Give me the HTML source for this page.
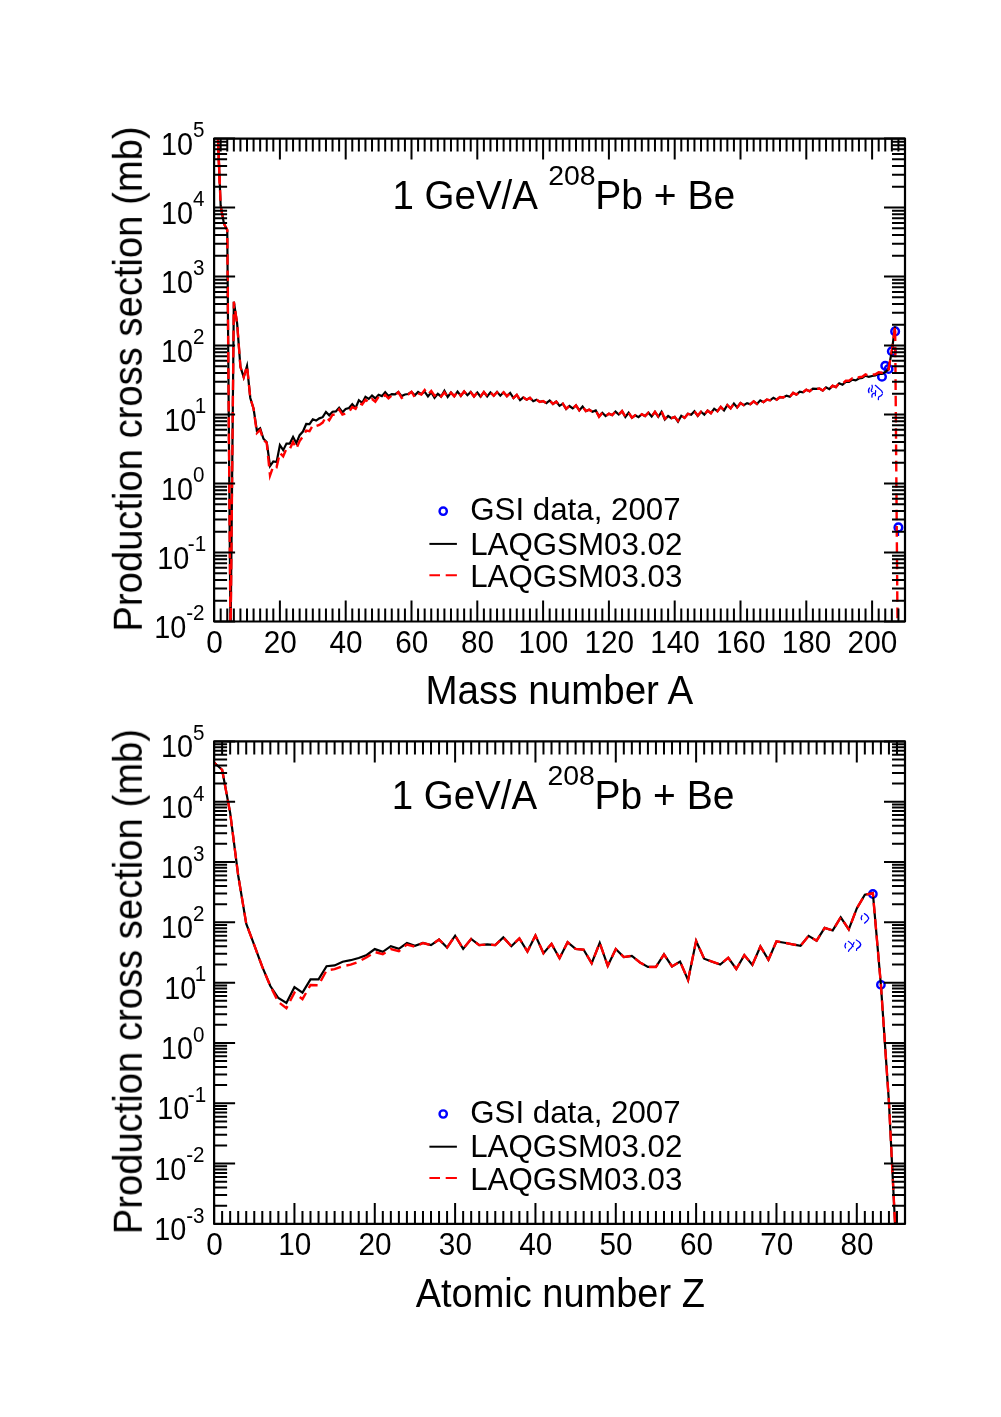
<!DOCTYPE html><html><head><meta charset="utf-8"><style>html,body{margin:0;padding:0;background:#fff}svg{display:block}text{will-change:transform}</style></head><body><svg width="1001" height="1417" viewBox="0 0 1001 1417">
<rect width="1001" height="1417" fill="#fff"/>
<clipPath id="cp1"><rect x="214.10" y="138.60" width="690.90" height="482.90"/></clipPath>
<path d="M869.6 387.9Q867.6 390.3 869 392.7M872 385.2Q873 387.4 871.8 389.2T872 391.6M872 397.2Q871.4 394.5 873.5 393.3L875.3 393Q875.8 392 875.6 390.6M875.3 393L875.4 395.7M875.3 385.3L878.6 388.2L881.6 390.9L882.5 392.7M882.3 394.2Q881.6 396 878.7 396.9Q878.2 398 878.4 399.6" stroke="#0000ff" stroke-width="1.25" fill="none" stroke-linecap="round" stroke-linejoin="round"/>
<circle cx="881.97" cy="376.7" r="3.8" fill="none" stroke="#0000ff" stroke-width="2.5"/>
<circle cx="885.26" cy="365.7" r="3.8" fill="none" stroke="#0000ff" stroke-width="2.5"/>
<circle cx="888.55" cy="369.0" r="3.8" fill="none" stroke="#0000ff" stroke-width="2.5"/>
<circle cx="891.84" cy="351.3" r="3.8" fill="none" stroke="#0000ff" stroke-width="2.5"/>
<circle cx="895.13" cy="331.4" r="3.8" fill="none" stroke="#0000ff" stroke-width="2.5"/>
<circle cx="898.42" cy="527.4" r="3.8" fill="none" stroke="#0000ff" stroke-width="2.5"/>
<path d="M898.42 530V536" stroke="#0000ff" stroke-width="1.5"/>
<g clip-path="url(#cp1)" fill="none" stroke-linejoin="miter" stroke-miterlimit="6">
<path d="M217.39 125.00 L220.68 206.00 L223.97 223.70 L227.26 230.00 L230.55 640.00 L233.84 301.70 L237.13 323.40 L240.42 366.80 L243.71 377.19 L247.00 365.91 L250.29 397.98 L253.58 408.77 L256.87 430.70 L260.16 428.31 L263.45 438.74 L266.74 442.34 L270.03 466.03 L273.32 461.38 L276.61 462.03 L279.90 445.14 L283.19 450.15 L286.48 443.53 L289.77 443.53 L293.06 436.99 L296.35 443.22 L299.64 435.14 L302.93 431.55 L306.22 423.99 L309.51 424.15 L312.80 419.32 L316.09 420.59 L319.38 418.36 L322.67 417.16 L325.96 412.02 L329.25 415.32 L332.54 411.77 L335.83 411.41 L339.12 407.77 L342.41 412.23 L345.70 408.97 L348.99 407.97 L352.28 404.28 L355.57 408.02 L358.86 400.22 L362.15 402.91 L365.44 396.77 L368.73 398.95 L372.02 395.57 L375.31 398.39 L378.60 394.81 L381.89 396.11 L385.18 392.25 L388.47 396.04 L391.76 394.06 L395.05 394.38 L398.34 391.99 L401.63 396.11 L404.92 394.48 L408.21 393.98 L411.50 391.88 L414.79 395.33 L418.08 391.95 L421.37 394.10 L424.66 391.68 L427.95 396.34 L431.24 392.29 L434.53 397.74 L437.82 393.79 L441.11 396.46 L444.40 390.77 L447.69 396.93 L450.98 392.61 L454.27 396.35 L457.56 391.68 L460.85 395.84 L464.14 391.48 L467.43 395.16 L470.72 391.91 L474.01 396.41 L477.30 392.55 L480.59 396.78 L483.88 392.18 L487.17 396.41 L490.46 392.36 L493.75 395.66 L497.04 391.87 L500.33 395.66 L503.62 392.31 L506.91 396.16 L510.20 392.96 L513.49 398.00 L516.78 394.96 L520.07 400.16 L523.36 397.40 L526.65 399.69 L529.94 397.84 L533.23 401.17 L536.52 399.67 L539.81 401.86 L543.10 401.09 L546.39 403.15 L549.68 400.50 L552.97 403.94 L556.26 401.59 L559.55 405.85 L562.84 403.70 L566.13 409.07 L569.42 406.00 L572.71 408.44 L576.00 405.37 L579.29 410.34 L582.58 406.48 L585.87 411.05 L589.16 409.66 L592.45 411.77 L595.74 410.45 L599.03 416.35 L602.32 412.72 L605.61 415.99 L608.90 413.69 L612.19 415.13 L615.48 411.59 L618.77 414.55 L622.06 411.12 L625.35 417.02 L628.64 412.72 L631.93 417.73 L635.22 415.28 L638.51 417.13 L641.80 414.28 L645.09 416.06 L648.38 412.72 L651.67 416.40 L654.96 411.85 L658.25 416.87 L661.54 411.91 L664.83 419.57 L668.12 416.00 L671.41 418.22 L674.70 416.90 L677.99 421.64 L681.28 415.75 L684.57 417.88 L687.86 413.76 L691.15 414.69 L694.44 411.32 L697.73 415.89 L701.02 411.77 L704.31 414.69 L707.60 410.64 L710.89 413.22 L714.18 408.69 L717.47 411.22 L720.76 406.90 L724.05 410.35 L727.34 405.06 L730.63 408.40 L733.92 403.59 L737.21 407.45 L740.50 403.04 L743.79 405.18 L747.08 403.12 L750.37 404.25 L753.66 401.39 L756.95 403.93 L760.24 400.36 L763.53 402.18 L766.82 399.61 L770.11 400.32 L773.40 397.75 L776.69 399.68 L779.98 397.07 L783.27 397.41 L786.56 395.59 L789.85 396.70 L793.14 392.86 L796.43 394.63 L799.72 391.62 L803.01 392.32 L806.30 389.69 L809.59 391.23 L812.88 388.56 L816.17 388.95 L819.46 388.54 L822.75 390.60 L826.04 387.32 L829.33 389.10 L832.62 385.77 L835.91 387.13 L839.20 383.30 L842.49 384.73 L845.78 381.97 L849.07 381.97 L852.36 379.59 L855.65 380.38 L858.94 378.47 L862.23 377.97 L865.52 375.63 L868.81 376.91 L872.10 375.97 L875.39 375.47 L878.68 373.54 L881.97 373.92 L885.26 372.00 L888.55 369.50 L891.84 350.80 L895.13 326.30" stroke="#000" stroke-width="2.2"/>
<path d="M217.4 125L219.76 183" stroke="#ff0000" stroke-width="2.4"/>
<path d="M217.39 125.00 L220.68 206.00 L223.97 223.70 L227.26 230.00 L230.55 640.00 L233.84 301.70 L237.13 323.40 L240.42 366.80 L243.71 377.19 L247.00 365.91 L250.29 397.98 L253.58 408.77 L256.87 433.05 L260.16 429.87 L263.45 439.94 L266.74 442.93 L270.03 475.49 L273.32 466.00 L276.61 467.13 L279.90 452.88 L283.19 456.33 L286.48 448.73 L289.77 449.13 L293.06 442.04 L296.35 448.63 L299.64 441.14 L302.93 436.34 L306.22 430.64 L309.51 431.23 L312.80 425.27 L316.09 426.09 L319.38 424.95 L322.67 422.56 L325.96 416.96 L329.25 420.36 L332.54 414.76 L335.83 414.76 L339.12 409.58 L342.41 414.60 L345.70 413.46 L348.99 411.96 L352.28 407.01 L355.57 408.83 L358.86 403.02 L362.15 404.47 L365.44 399.71 L368.73 402.38 L372.02 399.07 L375.31 401.74 L378.60 396.82 L381.89 397.76 L385.18 395.01 L388.47 398.45 L391.76 395.48 L395.05 394.98 L398.34 392.21 L401.63 397.93 L404.92 395.98 L408.21 394.48 L411.50 391.74 L414.79 397.37 L418.08 393.37 L421.37 394.56 L424.66 390.05 L427.95 394.48 L431.24 390.99 L434.53 395.70 L437.82 393.12 L441.11 396.55 L444.40 392.24 L447.69 397.15 L450.98 392.61 L454.27 396.30 L457.56 391.31 L460.85 395.78 L464.14 391.48 L467.43 395.22 L470.72 392.29 L474.01 396.47 L477.30 392.49 L480.59 396.41 L483.88 392.05 L487.17 396.03 L490.46 392.31 L493.75 395.71 L497.04 392.25 L500.33 395.71 L503.62 392.31 L506.91 396.16 L510.20 392.96 L513.49 398.00 L516.78 394.96 L520.07 400.16 L523.36 397.40 L526.65 399.69 L529.94 397.84 L533.23 401.17 L536.52 399.67 L539.81 401.86 L543.10 401.09 L546.39 403.15 L549.68 400.50 L552.97 403.94 L556.26 401.59 L559.55 405.85 L562.84 403.66 L566.13 408.69 L569.42 405.95 L572.71 408.44 L576.00 405.37 L579.29 410.34 L582.58 406.48 L585.87 411.05 L589.16 409.66 L592.45 411.77 L595.74 410.47 L599.03 416.73 L602.32 412.77 L605.61 415.99 L608.90 413.69 L612.19 415.13 L615.48 411.59 L618.77 414.55 L622.06 411.08 L625.35 416.65 L628.64 412.66 L631.93 417.73 L635.22 415.28 L638.51 417.13 L641.80 414.28 L645.09 416.06 L648.38 412.72 L651.67 416.40 L654.96 411.79 L658.25 416.44 L661.54 411.36 L664.83 418.82 L668.12 415.92 L671.41 418.22 L674.70 416.85 L677.99 420.90 L681.28 415.69 L684.57 417.88 L687.86 413.76 L691.15 414.69 L694.44 411.27 L697.73 415.51 L701.02 411.72 L704.31 414.69 L707.60 410.64 L710.89 413.22 L714.18 408.69 L717.47 411.22 L720.76 406.90 L724.05 410.35 L727.34 405.06 L730.63 408.40 L733.92 403.59 L737.21 407.45 L740.50 403.04 L743.79 405.18 L747.08 403.12 L750.37 404.25 L753.66 401.39 L756.95 403.93 L760.24 400.36 L763.53 402.18 L766.82 399.61 L770.11 400.32 L773.40 397.75 L776.69 399.68 L779.98 397.07 L783.27 397.41 L786.56 395.59 L789.85 396.70 L793.14 392.86 L796.43 394.63 L799.72 391.62 L803.01 392.32 L806.30 389.69 L809.59 391.23 L812.88 388.56 L816.17 388.95 L819.46 388.54 L822.75 390.60 L826.04 387.32 L829.33 389.10 L832.62 385.77 L835.91 387.13 L839.20 383.16 L842.49 383.64 L845.78 380.77 L849.07 380.77 L852.36 378.39 L855.65 379.18 L858.94 377.27 L862.23 376.77 L865.52 374.43 L868.81 375.71 L872.10 374.77 L875.39 374.27 L878.68 372.34 L881.97 372.76 L885.26 372.00 L888.55 369.50 L891.84 350.80 L895.13 326.30 L898.42 737.00" stroke="#ff0000" stroke-width="2.4" stroke-dasharray="10.6 5.7" stroke-dashoffset="0"/>
</g>
<path d="M214.10 138.60v21M214.10 621.50v-21M220.68 138.60v13M220.68 621.50v-13M227.26 138.60v13M227.26 621.50v-13M233.84 138.60v13M233.84 621.50v-13M240.42 138.60v13M240.42 621.50v-13M247.00 138.60v13M247.00 621.50v-13M253.58 138.60v13M253.58 621.50v-13M260.16 138.60v13M260.16 621.50v-13M266.74 138.60v13M266.74 621.50v-13M273.32 138.60v13M273.32 621.50v-13M279.90 138.60v21M279.90 621.50v-21M286.48 138.60v13M286.48 621.50v-13M293.06 138.60v13M293.06 621.50v-13M299.64 138.60v13M299.64 621.50v-13M306.22 138.60v13M306.22 621.50v-13M312.80 138.60v13M312.80 621.50v-13M319.38 138.60v13M319.38 621.50v-13M325.96 138.60v13M325.96 621.50v-13M332.54 138.60v13M332.54 621.50v-13M339.12 138.60v13M339.12 621.50v-13M345.70 138.60v21M345.70 621.50v-21M352.28 138.60v13M352.28 621.50v-13M358.86 138.60v13M358.86 621.50v-13M365.44 138.60v13M365.44 621.50v-13M372.02 138.60v13M372.02 621.50v-13M378.60 138.60v13M378.60 621.50v-13M385.18 138.60v13M385.18 621.50v-13M391.76 138.60v13M391.76 621.50v-13M398.34 138.60v13M398.34 621.50v-13M404.92 138.60v13M404.92 621.50v-13M411.50 138.60v21M411.50 621.50v-21M418.08 138.60v13M418.08 621.50v-13M424.66 138.60v13M424.66 621.50v-13M431.24 138.60v13M431.24 621.50v-13M437.82 138.60v13M437.82 621.50v-13M444.40 138.60v13M444.40 621.50v-13M450.98 138.60v13M450.98 621.50v-13M457.56 138.60v13M457.56 621.50v-13M464.14 138.60v13M464.14 621.50v-13M470.72 138.60v13M470.72 621.50v-13M477.30 138.60v21M477.30 621.50v-21M483.88 138.60v13M483.88 621.50v-13M490.46 138.60v13M490.46 621.50v-13M497.04 138.60v13M497.04 621.50v-13M503.62 138.60v13M503.62 621.50v-13M510.20 138.60v13M510.20 621.50v-13M516.78 138.60v13M516.78 621.50v-13M523.36 138.60v13M523.36 621.50v-13M529.94 138.60v13M529.94 621.50v-13M536.52 138.60v13M536.52 621.50v-13M543.10 138.60v21M543.10 621.50v-21M549.68 138.60v13M549.68 621.50v-13M556.26 138.60v13M556.26 621.50v-13M562.84 138.60v13M562.84 621.50v-13M569.42 138.60v13M569.42 621.50v-13M576.00 138.60v13M576.00 621.50v-13M582.58 138.60v13M582.58 621.50v-13M589.16 138.60v13M589.16 621.50v-13M595.74 138.60v13M595.74 621.50v-13M602.32 138.60v13M602.32 621.50v-13M608.90 138.60v21M608.90 621.50v-21M615.48 138.60v13M615.48 621.50v-13M622.06 138.60v13M622.06 621.50v-13M628.64 138.60v13M628.64 621.50v-13M635.22 138.60v13M635.22 621.50v-13M641.80 138.60v13M641.80 621.50v-13M648.38 138.60v13M648.38 621.50v-13M654.96 138.60v13M654.96 621.50v-13M661.54 138.60v13M661.54 621.50v-13M668.12 138.60v13M668.12 621.50v-13M674.70 138.60v21M674.70 621.50v-21M681.28 138.60v13M681.28 621.50v-13M687.86 138.60v13M687.86 621.50v-13M694.44 138.60v13M694.44 621.50v-13M701.02 138.60v13M701.02 621.50v-13M707.60 138.60v13M707.60 621.50v-13M714.18 138.60v13M714.18 621.50v-13M720.76 138.60v13M720.76 621.50v-13M727.34 138.60v13M727.34 621.50v-13M733.92 138.60v13M733.92 621.50v-13M740.50 138.60v21M740.50 621.50v-21M747.08 138.60v13M747.08 621.50v-13M753.66 138.60v13M753.66 621.50v-13M760.24 138.60v13M760.24 621.50v-13M766.82 138.60v13M766.82 621.50v-13M773.40 138.60v13M773.40 621.50v-13M779.98 138.60v13M779.98 621.50v-13M786.56 138.60v13M786.56 621.50v-13M793.14 138.60v13M793.14 621.50v-13M799.72 138.60v13M799.72 621.50v-13M806.30 138.60v21M806.30 621.50v-21M812.88 138.60v13M812.88 621.50v-13M819.46 138.60v13M819.46 621.50v-13M826.04 138.60v13M826.04 621.50v-13M832.62 138.60v13M832.62 621.50v-13M839.20 138.60v13M839.20 621.50v-13M845.78 138.60v13M845.78 621.50v-13M852.36 138.60v13M852.36 621.50v-13M858.94 138.60v13M858.94 621.50v-13M865.52 138.60v13M865.52 621.50v-13M872.10 138.60v21M872.10 621.50v-21M878.68 138.60v13M878.68 621.50v-13M885.26 138.60v13M885.26 621.50v-13M891.84 138.60v13M891.84 621.50v-13M898.42 138.60v13M898.42 621.50v-13M905.00 138.60v13M905.00 621.50v-13M214.10 621.50h21M905.00 621.50h-21M214.10 600.73h13M905.00 600.73h-13M214.10 588.59h13M905.00 588.59h-13M214.10 579.97h13M905.00 579.97h-13M214.10 573.28h13M905.00 573.28h-13M214.10 567.82h13M905.00 567.82h-13M214.10 563.20h13M905.00 563.20h-13M214.10 559.20h13M905.00 559.20h-13M214.10 555.67h13M905.00 555.67h-13M214.10 552.51h21M905.00 552.51h-21M214.10 531.75h13M905.00 531.75h-13M214.10 519.60h13M905.00 519.60h-13M214.10 510.98h13M905.00 510.98h-13M214.10 504.30h13M905.00 504.30h-13M214.10 498.83h13M905.00 498.83h-13M214.10 494.21h13M905.00 494.21h-13M214.10 490.21h13M905.00 490.21h-13M214.10 486.69h13M905.00 486.69h-13M214.10 483.53h21M905.00 483.53h-21M214.10 462.76h13M905.00 462.76h-13M214.10 450.61h13M905.00 450.61h-13M214.10 442.00h13M905.00 442.00h-13M214.10 435.31h13M905.00 435.31h-13M214.10 429.85h13M905.00 429.85h-13M214.10 425.23h13M905.00 425.23h-13M214.10 421.23h13M905.00 421.23h-13M214.10 417.70h13M905.00 417.70h-13M214.10 414.54h21M905.00 414.54h-21M214.10 393.78h13M905.00 393.78h-13M214.10 381.63h13M905.00 381.63h-13M214.10 373.01h13M905.00 373.01h-13M214.10 366.32h13M905.00 366.32h-13M214.10 360.86h13M905.00 360.86h-13M214.10 356.24h13M905.00 356.24h-13M214.10 352.24h13M905.00 352.24h-13M214.10 348.71h13M905.00 348.71h-13M214.10 345.56h21M905.00 345.56h-21M214.10 324.79h13M905.00 324.79h-13M214.10 312.64h13M905.00 312.64h-13M214.10 304.02h13M905.00 304.02h-13M214.10 297.34h13M905.00 297.34h-13M214.10 291.88h13M905.00 291.88h-13M214.10 287.26h13M905.00 287.26h-13M214.10 283.26h13M905.00 283.26h-13M214.10 279.73h13M905.00 279.73h-13M214.10 276.57h21M905.00 276.57h-21M214.10 255.80h13M905.00 255.80h-13M214.10 243.66h13M905.00 243.66h-13M214.10 235.04h13M905.00 235.04h-13M214.10 228.35h13M905.00 228.35h-13M214.10 222.89h13M905.00 222.89h-13M214.10 218.27h13M905.00 218.27h-13M214.10 214.27h13M905.00 214.27h-13M214.10 210.74h13M905.00 210.74h-13M214.10 207.59h21M905.00 207.59h-21M214.10 186.82h13M905.00 186.82h-13M214.10 174.67h13M905.00 174.67h-13M214.10 166.05h13M905.00 166.05h-13M214.10 159.37h13M905.00 159.37h-13M214.10 153.90h13M905.00 153.90h-13M214.10 149.29h13M905.00 149.29h-13M214.10 145.29h13M905.00 145.29h-13M214.10 141.76h13M905.00 141.76h-13M214.10 138.60h21M905.00 138.60h-21" stroke="#000" stroke-width="2" fill="none"/>
<rect x="214.10" y="138.60" width="690.90" height="482.90" fill="none" stroke="#000" stroke-width="2.2" stroke-linejoin="round"/>
<text transform="translate(204.50,637.50) scale(0.945,1)" font-size="30.5" text-anchor="end" font-family="Liberation Sans, sans-serif">10<tspan font-size="21.8" dy="-17.2">-2</tspan></text>
<text transform="translate(206.10,568.51) scale(0.945,1)" font-size="30.5" text-anchor="end" font-family="Liberation Sans, sans-serif">10<tspan font-size="21.8" dy="-17.2" dx="-1.7">-1</tspan></text>
<text transform="translate(204.50,499.53) scale(0.945,1)" font-size="30.5" text-anchor="end" font-family="Liberation Sans, sans-serif">10<tspan font-size="21.8" dy="-17.2">0</tspan></text>
<text transform="translate(206.10,430.54) scale(0.945,1)" font-size="30.5" text-anchor="end" font-family="Liberation Sans, sans-serif">10<tspan font-size="21.8" dy="-17.2" dx="-1.7">1</tspan></text>
<text transform="translate(204.50,361.56) scale(0.945,1)" font-size="30.5" text-anchor="end" font-family="Liberation Sans, sans-serif">10<tspan font-size="21.8" dy="-17.2">2</tspan></text>
<text transform="translate(204.50,292.57) scale(0.945,1)" font-size="30.5" text-anchor="end" font-family="Liberation Sans, sans-serif">10<tspan font-size="21.8" dy="-17.2">3</tspan></text>
<text transform="translate(204.50,223.59) scale(0.945,1)" font-size="30.5" text-anchor="end" font-family="Liberation Sans, sans-serif">10<tspan font-size="21.8" dy="-17.2">4</tspan></text>
<text transform="translate(204.50,154.60) scale(0.945,1)" font-size="30.5" text-anchor="end" font-family="Liberation Sans, sans-serif">10<tspan font-size="21.8" dy="-17.2">5</tspan></text>
<text transform="translate(214.40,652.70) scale(0.975,1)" font-size="30.5" text-anchor="middle" font-family="Liberation Sans, sans-serif">0</text>
<text transform="translate(280.20,652.70) scale(0.975,1)" font-size="30.5" text-anchor="middle" font-family="Liberation Sans, sans-serif">20</text>
<text transform="translate(346.00,652.70) scale(0.975,1)" font-size="30.5" text-anchor="middle" font-family="Liberation Sans, sans-serif">40</text>
<text transform="translate(411.80,652.70) scale(0.975,1)" font-size="30.5" text-anchor="middle" font-family="Liberation Sans, sans-serif">60</text>
<text transform="translate(477.60,652.70) scale(0.975,1)" font-size="30.5" text-anchor="middle" font-family="Liberation Sans, sans-serif">80</text>
<text transform="translate(543.40,652.70) scale(0.975,1)" font-size="30.5" text-anchor="middle" font-family="Liberation Sans, sans-serif">100</text>
<text transform="translate(609.20,652.70) scale(0.975,1)" font-size="30.5" text-anchor="middle" font-family="Liberation Sans, sans-serif">120</text>
<text transform="translate(675.00,652.70) scale(0.975,1)" font-size="30.5" text-anchor="middle" font-family="Liberation Sans, sans-serif">140</text>
<text transform="translate(740.80,652.70) scale(0.975,1)" font-size="30.5" text-anchor="middle" font-family="Liberation Sans, sans-serif">160</text>
<text transform="translate(806.60,652.70) scale(0.975,1)" font-size="30.5" text-anchor="middle" font-family="Liberation Sans, sans-serif">180</text>
<text transform="translate(872.40,652.70) scale(0.975,1)" font-size="30.5" text-anchor="middle" font-family="Liberation Sans, sans-serif">200</text>
<text transform="translate(559.35,704.10) scale(0.964,1)" font-size="40" text-anchor="middle" font-family="Liberation Sans, sans-serif">Mass number A</text>
<text transform="translate(141.8,379.05) rotate(-90) scale(0.955,1)" font-size="40" text-anchor="middle" font-family="Liberation Sans, sans-serif">Production cross section (mb)</text>
<text transform="translate(392.50,208.60) scale(0.962,1)" font-size="40" text-anchor="start" font-family="Liberation Sans, sans-serif">1 GeV/A</text>
<text transform="translate(548.20,185.10) scale(1.035,1)" font-size="27.5" text-anchor="start" font-family="Liberation Sans, sans-serif">208</text>
<text transform="translate(595.30,208.60) scale(0.975,1)" font-size="40" text-anchor="start" font-family="Liberation Sans, sans-serif">Pb + Be</text>
<circle cx="443.2" cy="511.20" r="3.65" fill="none" stroke="#0000ff" stroke-width="2.4"/>
<text transform="translate(470.20,520.40) scale(0.99,1)" font-size="31.6" text-anchor="start" font-family="Liberation Sans, sans-serif">GSI data, 2007</text>
<path d="M429.4 543.90H456.9" stroke="#000" stroke-width="2"/>
<text transform="translate(470.20,554.60) scale(0.99,1)" font-size="31.6" text-anchor="start" font-family="Liberation Sans, sans-serif">LAQGSM03.02</text>
<path d="M429.4 575.30H440M445.7 575.30H456.9" stroke="#ff0000" stroke-width="2"/>
<text transform="translate(470.20,586.70) scale(0.99,1)" font-size="31.6" text-anchor="start" font-family="Liberation Sans, sans-serif">LAQGSM03.03</text>
<clipPath id="cp2"><rect x="214.10" y="741.40" width="690.90" height="482.50"/></clipPath>
<path d="M862 915.5Q860.6 917.8 861.6 919.7M864.4 913.6Q867.5 915 868.8 918.2Q868 921 864.6 923.1M845.7 943.4Q844.3 946 845.5 947.9M848.3 941.3Q851.5 943 853.1 946.6M854 942.4Q852.7 946.5 851 948.3Q849 949.6 848.5 951.3M856.3 940Q859.8 941.6 860.8 944.5Q860.2 947.2 856.7 948.7L856.5 950.4" stroke="#0000ff" stroke-width="1.25" fill="none" stroke-linecap="round" stroke-linejoin="round"/>
<circle cx="872.87" cy="894.0" r="3.7" fill="none" stroke="#0000ff" stroke-width="2.4"/>
<circle cx="880.90" cy="984.8" r="3.7" fill="none" stroke="#0000ff" stroke-width="2.4"/>
<g clip-path="url(#cp2)" fill="none" stroke-linejoin="miter" stroke-miterlimit="6">
<path d="M214.10 762.60 L222.13 769.80 L230.17 813.00 L238.20 875.50 L246.23 923.60 L254.27 945.20 L262.30 966.80 L270.34 986.00 L278.37 998.00 L286.40 1002.90 L294.44 987.18 L302.47 992.69 L310.50 979.40 L318.54 979.40 L326.57 966.20 L334.61 965.45 L342.64 961.70 L350.67 960.20 L358.71 957.95 L366.74 954.96 L374.77 949.09 L382.81 951.83 L390.84 946.10 L398.88 948.83 L406.91 943.10 L414.94 945.90 L422.98 943.02 L431.01 945.11 L439.04 939.55 L447.08 947.57 L455.11 935.69 L463.15 948.88 L471.18 938.91 L479.21 945.14 L487.25 944.47 L495.28 945.12 L503.31 937.44 L511.35 946.21 L519.38 938.42 L527.42 951.49 L535.45 935.49 L543.48 953.19 L551.52 943.86 L559.55 958.18 L567.58 942.14 L575.62 948.96 L583.65 949.71 L591.68 963.27 L599.72 942.89 L607.75 965.83 L615.79 949.04 L623.82 957.07 L631.85 955.81 L639.89 962.45 L647.92 966.95 L655.95 966.95 L663.99 954.35 L672.02 966.48 L680.06 961.58 L688.09 980.07 L696.12 940.93 L704.16 958.70 L712.19 961.70 L720.22 964.53 L728.26 957.74 L736.29 968.99 L744.33 955.10 L752.36 964.84 L760.39 946.50 L768.43 959.77 L776.46 941.41 L784.49 942.73 L792.53 944.33 L800.56 945.76 L808.60 935.89 L816.63 940.69 L824.66 927.84 L832.70 930.43 L840.73 917.34 L848.76 929.42 L856.80 908.36 L864.83 894.78 L872.87 893.18 L880.90 984.77 L888.93 1102.00 L896.97 1262.00" stroke="#000" stroke-width="2.2"/>
<path d="M214.10 762.60 L222.13 769.80 L230.17 813.00 L238.20 875.50 L246.23 923.60 L254.27 945.20 L262.30 966.80 L270.34 986.00 L278.37 1002.00 L286.40 1008.20 L294.44 992.67 L302.47 999.18 L310.50 984.98 L318.54 985.22 L326.57 970.40 L334.61 969.19 L342.64 966.20 L350.67 964.70 L358.71 961.70 L366.74 957.21 L374.77 952.05 L382.81 954.12 L390.84 949.05 L398.88 951.09 L406.91 944.59 L414.94 946.65 L422.98 943.03 L431.01 945.11 L439.04 939.55 L447.08 947.57 L455.11 935.69 L463.15 948.88 L471.18 938.91 L479.21 945.14 L487.25 944.47 L495.28 945.12 L503.31 937.44 L511.35 946.21 L519.38 938.42 L527.42 951.49 L535.45 935.49 L543.48 953.19 L551.52 943.86 L559.55 958.18 L567.58 942.14 L575.62 948.96 L583.65 949.71 L591.68 963.27 L599.72 942.89 L607.75 965.83 L615.79 949.04 L623.82 957.07 L631.85 955.81 L639.89 962.45 L647.92 966.95 L655.95 966.95 L663.99 954.35 L672.02 966.48 L680.06 961.58 L688.09 980.07 L696.12 940.93 L704.16 958.70 L712.19 961.70 L720.22 964.53 L728.26 957.74 L736.29 968.99 L744.33 955.10 L752.36 964.84 L760.39 946.50 L768.43 959.77 L776.46 941.41 L784.49 942.73 L792.53 944.33 L800.56 945.76 L808.60 935.89 L816.63 940.69 L824.66 927.84 L832.70 930.43 L840.73 917.34 L848.76 929.42 L856.80 908.36 L864.83 894.78 L872.87 893.18 L880.90 984.77 L888.93 1102.00 L896.97 1262.00" stroke="#ff0000" stroke-width="2.4" stroke-dasharray="10.6 5.7" stroke-dashoffset="7.6"/>
</g>
<path d="M214.10 741.40v21M214.10 1223.90v-21M222.13 741.40v13M222.13 1223.90v-13M230.17 741.40v13M230.17 1223.90v-13M238.20 741.40v13M238.20 1223.90v-13M246.23 741.40v13M246.23 1223.90v-13M254.27 741.40v13M254.27 1223.90v-13M262.30 741.40v13M262.30 1223.90v-13M270.34 741.40v13M270.34 1223.90v-13M278.37 741.40v13M278.37 1223.90v-13M286.40 741.40v13M286.40 1223.90v-13M294.44 741.40v21M294.44 1223.90v-21M302.47 741.40v13M302.47 1223.90v-13M310.50 741.40v13M310.50 1223.90v-13M318.54 741.40v13M318.54 1223.90v-13M326.57 741.40v13M326.57 1223.90v-13M334.61 741.40v13M334.61 1223.90v-13M342.64 741.40v13M342.64 1223.90v-13M350.67 741.40v13M350.67 1223.90v-13M358.71 741.40v13M358.71 1223.90v-13M366.74 741.40v13M366.74 1223.90v-13M374.77 741.40v21M374.77 1223.90v-21M382.81 741.40v13M382.81 1223.90v-13M390.84 741.40v13M390.84 1223.90v-13M398.88 741.40v13M398.88 1223.90v-13M406.91 741.40v13M406.91 1223.90v-13M414.94 741.40v13M414.94 1223.90v-13M422.98 741.40v13M422.98 1223.90v-13M431.01 741.40v13M431.01 1223.90v-13M439.04 741.40v13M439.04 1223.90v-13M447.08 741.40v13M447.08 1223.90v-13M455.11 741.40v21M455.11 1223.90v-21M463.15 741.40v13M463.15 1223.90v-13M471.18 741.40v13M471.18 1223.90v-13M479.21 741.40v13M479.21 1223.90v-13M487.25 741.40v13M487.25 1223.90v-13M495.28 741.40v13M495.28 1223.90v-13M503.31 741.40v13M503.31 1223.90v-13M511.35 741.40v13M511.35 1223.90v-13M519.38 741.40v13M519.38 1223.90v-13M527.42 741.40v13M527.42 1223.90v-13M535.45 741.40v21M535.45 1223.90v-21M543.48 741.40v13M543.48 1223.90v-13M551.52 741.40v13M551.52 1223.90v-13M559.55 741.40v13M559.55 1223.90v-13M567.58 741.40v13M567.58 1223.90v-13M575.62 741.40v13M575.62 1223.90v-13M583.65 741.40v13M583.65 1223.90v-13M591.68 741.40v13M591.68 1223.90v-13M599.72 741.40v13M599.72 1223.90v-13M607.75 741.40v13M607.75 1223.90v-13M615.79 741.40v21M615.79 1223.90v-21M623.82 741.40v13M623.82 1223.90v-13M631.85 741.40v13M631.85 1223.90v-13M639.89 741.40v13M639.89 1223.90v-13M647.92 741.40v13M647.92 1223.90v-13M655.95 741.40v13M655.95 1223.90v-13M663.99 741.40v13M663.99 1223.90v-13M672.02 741.40v13M672.02 1223.90v-13M680.06 741.40v13M680.06 1223.90v-13M688.09 741.40v13M688.09 1223.90v-13M696.12 741.40v21M696.12 1223.90v-21M704.16 741.40v13M704.16 1223.90v-13M712.19 741.40v13M712.19 1223.90v-13M720.22 741.40v13M720.22 1223.90v-13M728.26 741.40v13M728.26 1223.90v-13M736.29 741.40v13M736.29 1223.90v-13M744.33 741.40v13M744.33 1223.90v-13M752.36 741.40v13M752.36 1223.90v-13M760.39 741.40v13M760.39 1223.90v-13M768.43 741.40v13M768.43 1223.90v-13M776.46 741.40v21M776.46 1223.90v-21M784.49 741.40v13M784.49 1223.90v-13M792.53 741.40v13M792.53 1223.90v-13M800.56 741.40v13M800.56 1223.90v-13M808.60 741.40v13M808.60 1223.90v-13M816.63 741.40v13M816.63 1223.90v-13M824.66 741.40v13M824.66 1223.90v-13M832.70 741.40v13M832.70 1223.90v-13M840.73 741.40v13M840.73 1223.90v-13M848.76 741.40v13M848.76 1223.90v-13M856.80 741.40v21M856.80 1223.90v-21M864.83 741.40v13M864.83 1223.90v-13M872.87 741.40v13M872.87 1223.90v-13M880.90 741.40v13M880.90 1223.90v-13M888.93 741.40v13M888.93 1223.90v-13M896.97 741.40v13M896.97 1223.90v-13M905.00 741.40v13M905.00 1223.90v-13M214.10 1223.90h21M905.00 1223.90h-21M214.10 1205.74h13M905.00 1205.74h-13M214.10 1195.12h13M905.00 1195.12h-13M214.10 1187.59h13M905.00 1187.59h-13M214.10 1181.74h13M905.00 1181.74h-13M214.10 1176.97h13M905.00 1176.97h-13M214.10 1172.93h13M905.00 1172.93h-13M214.10 1169.43h13M905.00 1169.43h-13M214.10 1166.35h13M905.00 1166.35h-13M214.10 1163.59h21M905.00 1163.59h-21M214.10 1145.43h13M905.00 1145.43h-13M214.10 1134.81h13M905.00 1134.81h-13M214.10 1127.28h13M905.00 1127.28h-13M214.10 1121.43h13M905.00 1121.43h-13M214.10 1116.66h13M905.00 1116.66h-13M214.10 1112.62h13M905.00 1112.62h-13M214.10 1109.12h13M905.00 1109.12h-13M214.10 1106.03h13M905.00 1106.03h-13M214.10 1103.28h21M905.00 1103.28h-21M214.10 1085.12h13M905.00 1085.12h-13M214.10 1074.50h13M905.00 1074.50h-13M214.10 1066.96h13M905.00 1066.96h-13M214.10 1061.12h13M905.00 1061.12h-13M214.10 1056.34h13M905.00 1056.34h-13M214.10 1052.31h13M905.00 1052.31h-13M214.10 1048.81h13M905.00 1048.81h-13M214.10 1045.72h13M905.00 1045.72h-13M214.10 1042.96h21M905.00 1042.96h-21M214.10 1024.81h13M905.00 1024.81h-13M214.10 1014.19h13M905.00 1014.19h-13M214.10 1006.65h13M905.00 1006.65h-13M214.10 1000.81h13M905.00 1000.81h-13M214.10 996.03h13M905.00 996.03h-13M214.10 991.99h13M905.00 991.99h-13M214.10 988.49h13M905.00 988.49h-13M214.10 985.41h13M905.00 985.41h-13M214.10 982.65h21M905.00 982.65h-21M214.10 964.49h13M905.00 964.49h-13M214.10 953.87h13M905.00 953.87h-13M214.10 946.34h13M905.00 946.34h-13M214.10 940.49h13M905.00 940.49h-13M214.10 935.72h13M905.00 935.72h-13M214.10 931.68h13M905.00 931.68h-13M214.10 928.18h13M905.00 928.18h-13M214.10 925.10h13M905.00 925.10h-13M214.10 922.34h21M905.00 922.34h-21M214.10 904.18h13M905.00 904.18h-13M214.10 893.56h13M905.00 893.56h-13M214.10 886.03h13M905.00 886.03h-13M214.10 880.18h13M905.00 880.18h-13M214.10 875.41h13M905.00 875.41h-13M214.10 871.37h13M905.00 871.37h-13M214.10 867.87h13M905.00 867.87h-13M214.10 864.78h13M905.00 864.78h-13M214.10 862.02h21M905.00 862.02h-21M214.10 843.87h13M905.00 843.87h-13M214.10 833.25h13M905.00 833.25h-13M214.10 825.71h13M905.00 825.71h-13M214.10 819.87h13M905.00 819.87h-13M214.10 815.09h13M905.00 815.09h-13M214.10 811.06h13M905.00 811.06h-13M214.10 807.56h13M905.00 807.56h-13M214.10 804.47h13M905.00 804.47h-13M214.10 801.71h21M905.00 801.71h-21M214.10 783.56h13M905.00 783.56h-13M214.10 772.94h13M905.00 772.94h-13M214.10 765.40h13M905.00 765.40h-13M214.10 759.56h13M905.00 759.56h-13M214.10 754.78h13M905.00 754.78h-13M214.10 750.74h13M905.00 750.74h-13M214.10 747.24h13M905.00 747.24h-13M214.10 744.16h13M905.00 744.16h-13M214.10 741.40h21M905.00 741.40h-21" stroke="#000" stroke-width="2" fill="none"/>
<rect x="214.10" y="741.40" width="690.90" height="482.50" fill="none" stroke="#000" stroke-width="2.2" stroke-linejoin="round"/>
<text transform="translate(204.50,1239.90) scale(0.945,1)" font-size="30.5" text-anchor="end" font-family="Liberation Sans, sans-serif">10<tspan font-size="21.8" dy="-17.2">-3</tspan></text>
<text transform="translate(204.50,1179.59) scale(0.945,1)" font-size="30.5" text-anchor="end" font-family="Liberation Sans, sans-serif">10<tspan font-size="21.8" dy="-17.2">-2</tspan></text>
<text transform="translate(206.10,1119.28) scale(0.945,1)" font-size="30.5" text-anchor="end" font-family="Liberation Sans, sans-serif">10<tspan font-size="21.8" dy="-17.2" dx="-1.7">-1</tspan></text>
<text transform="translate(204.50,1058.96) scale(0.945,1)" font-size="30.5" text-anchor="end" font-family="Liberation Sans, sans-serif">10<tspan font-size="21.8" dy="-17.2">0</tspan></text>
<text transform="translate(206.10,998.65) scale(0.945,1)" font-size="30.5" text-anchor="end" font-family="Liberation Sans, sans-serif">10<tspan font-size="21.8" dy="-17.2" dx="-1.7">1</tspan></text>
<text transform="translate(204.50,938.34) scale(0.945,1)" font-size="30.5" text-anchor="end" font-family="Liberation Sans, sans-serif">10<tspan font-size="21.8" dy="-17.2">2</tspan></text>
<text transform="translate(204.50,878.02) scale(0.945,1)" font-size="30.5" text-anchor="end" font-family="Liberation Sans, sans-serif">10<tspan font-size="21.8" dy="-17.2">3</tspan></text>
<text transform="translate(204.50,817.71) scale(0.945,1)" font-size="30.5" text-anchor="end" font-family="Liberation Sans, sans-serif">10<tspan font-size="21.8" dy="-17.2">4</tspan></text>
<text transform="translate(204.50,757.40) scale(0.945,1)" font-size="30.5" text-anchor="end" font-family="Liberation Sans, sans-serif">10<tspan font-size="21.8" dy="-17.2">5</tspan></text>
<text transform="translate(214.40,1255.10) scale(0.975,1)" font-size="30.5" text-anchor="middle" font-family="Liberation Sans, sans-serif">0</text>
<text transform="translate(294.74,1255.10) scale(0.975,1)" font-size="30.5" text-anchor="middle" font-family="Liberation Sans, sans-serif">10</text>
<text transform="translate(375.07,1255.10) scale(0.975,1)" font-size="30.5" text-anchor="middle" font-family="Liberation Sans, sans-serif">20</text>
<text transform="translate(455.41,1255.10) scale(0.975,1)" font-size="30.5" text-anchor="middle" font-family="Liberation Sans, sans-serif">30</text>
<text transform="translate(535.75,1255.10) scale(0.975,1)" font-size="30.5" text-anchor="middle" font-family="Liberation Sans, sans-serif">40</text>
<text transform="translate(616.09,1255.10) scale(0.975,1)" font-size="30.5" text-anchor="middle" font-family="Liberation Sans, sans-serif">50</text>
<text transform="translate(696.42,1255.10) scale(0.975,1)" font-size="30.5" text-anchor="middle" font-family="Liberation Sans, sans-serif">60</text>
<text transform="translate(776.76,1255.10) scale(0.975,1)" font-size="30.5" text-anchor="middle" font-family="Liberation Sans, sans-serif">70</text>
<text transform="translate(857.10,1255.10) scale(0.975,1)" font-size="30.5" text-anchor="middle" font-family="Liberation Sans, sans-serif">80</text>
<text transform="translate(560.25,1306.50) scale(0.95,1)" font-size="40" text-anchor="middle" font-family="Liberation Sans, sans-serif">Atomic number Z</text>
<text transform="translate(141.8,981.65) rotate(-90) scale(0.955,1)" font-size="40" text-anchor="middle" font-family="Liberation Sans, sans-serif">Production cross section (mb)</text>
<text transform="translate(391.70,808.60) scale(0.962,1)" font-size="40" text-anchor="start" font-family="Liberation Sans, sans-serif">1 GeV/A</text>
<text transform="translate(547.40,785.10) scale(1.035,1)" font-size="27.5" text-anchor="start" font-family="Liberation Sans, sans-serif">208</text>
<text transform="translate(594.50,808.60) scale(0.975,1)" font-size="40" text-anchor="start" font-family="Liberation Sans, sans-serif">Pb + Be</text>
<circle cx="443.2" cy="1114.00" r="3.65" fill="none" stroke="#0000ff" stroke-width="2.4"/>
<text transform="translate(470.20,1123.20) scale(0.99,1)" font-size="31.6" text-anchor="start" font-family="Liberation Sans, sans-serif">GSI data, 2007</text>
<path d="M429.4 1146.70H456.9" stroke="#000" stroke-width="2"/>
<text transform="translate(470.20,1157.40) scale(0.99,1)" font-size="31.6" text-anchor="start" font-family="Liberation Sans, sans-serif">LAQGSM03.02</text>
<path d="M429.4 1178.10H440M445.7 1178.10H456.9" stroke="#ff0000" stroke-width="2"/>
<text transform="translate(470.20,1189.50) scale(0.99,1)" font-size="31.6" text-anchor="start" font-family="Liberation Sans, sans-serif">LAQGSM03.03</text>
</svg></body></html>
